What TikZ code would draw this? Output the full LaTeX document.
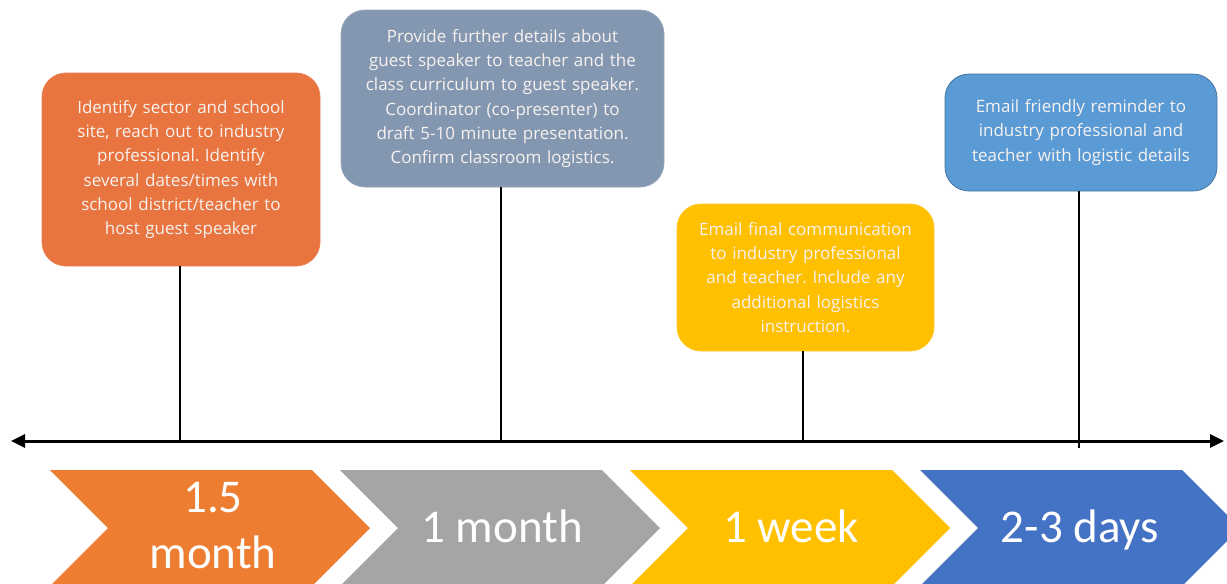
\documentclass[tikz,border=0pt]{standalone}
\usepackage{fontspec}
\setmainfont{Carlito}
\newfontfamily\boxfont{Open Sans}
\usetikzlibrary{arrows.meta}
\definecolor{cOrB}{HTML}{E8743F}
\definecolor{cGrB}{HTML}{8497B0}
\definecolor{cYeB}{HTML}{FFC000}
\definecolor{cBlB}{HTML}{5B9BD5}
\definecolor{cOrC}{HTML}{ED7D31}
\definecolor{cGrC}{HTML}{A5A5A5}
\definecolor{cYeC}{HTML}{FFC000}
\definecolor{cBlC}{HTML}{4472C4}
\definecolor{txtW}{HTML}{F7F2F0}
\tikzset{
  infobox/.style={rounded corners=24pt, inner sep=0pt, align=center,
    text=txtW, font=\boxfont\fontsize{17}{24.3}\selectfont\frenchspacing, line width=0.8pt},
  ticker/.style={line width=2pt, black},
  chevtxt/.style={text=white, align=center, font=\fontsize{47}{56}\selectfont},
}
\begin{document}
\begin{tikzpicture}[x=1pt,y=-1pt]
\useasboundingbox (0,0) rectangle (1227,584);
% boxes
\node[infobox, fill=cOrB, draw=cOrB!90!white, minimum width=278pt, minimum height=193pt, text width=272pt]
  (b1) at (181,169.5) {Identify sector and school\\site, reach out to industry\\professional. Identify\\several dates/times with\\school district/teacher to\\host guest speaker};
\node[infobox, fill=cGrB, draw=cGrB!85!white, minimum width=323pt, minimum height=177pt, text width=318pt]
  (b2) at (502.5,98.5) {Provide further details about\\guest speaker to teacher and the\\class curriculum to guest speaker.\\Coordinator (co-presenter) to\\draft 5-10 minute presentation.\\Confirm classroom logistics.};
\node[infobox, fill=cYeB, draw=cYeB!85!white, minimum width=257pt, minimum height=147pt, text width=252pt]
  (b3) at (805.5,277.5) {Email final communication\\to industry professional\\and teacher. Include any\\additional logistics\\instruction.};
\node[infobox, fill=cBlB, draw=cBlB!75!black, minimum width=272pt, minimum height=117pt, text width=266pt]
  (b4) at (1081,132.5) {Email friendly reminder to\\industry professional and\\teacher with logistic details};
% axis
\coordinate (axL) at (11,441);
\coordinate (axR) at (1224,441);
\draw[line width=3pt, {Triangle[length=14pt,width=13pt]}-{Triangle[length=14pt,width=13pt]}] (axL) -- (axR);
% ticks
\draw[ticker] ([xshift=-1pt]b1.south) -- ([xshift=-1pt]b1.south |- axL);
\draw[ticker] ([xshift=-1.5pt]b2.south) -- ([xshift=-1.5pt]b2.south |- axL);
\draw[ticker] ([xshift=-2.5pt]b3.south) -- ([xshift=-2.5pt]b3.south |- axL);
\draw[ticker] ([xshift=-2pt]b4.south) -- ++(0,257);
% chevrons
\fill[cOrC] (50,470) -- (312,470) -- (370,528) -- (312,586) -- (50,586) -- (108,528) -- cycle;
\fill[cGrC] (340,470) -- (602,470) -- (660,528) -- (602,586) -- (340,586) -- (398,528) -- cycle;
\fill[cYeC] (630,470) -- (892,470) -- (950,528) -- (892,586) -- (630,586) -- (688,528) -- cycle;
\fill[cBlC] (920,470) -- (1182,470) -- (1240,528) -- (1182,586) -- (920,586) -- (978,528) -- cycle;
\node[chevtxt] (c1) at (213,526) {1.5\\month};
\node[chevtxt, anchor=base] (c2) at (502,542) {1 month};
\node[chevtxt, anchor=base] (c3) at (791,542) {1 week};
\node[chevtxt, anchor=base] (c4) at (1080,542) {2-3 days};
\end{tikzpicture}
\end{document}
